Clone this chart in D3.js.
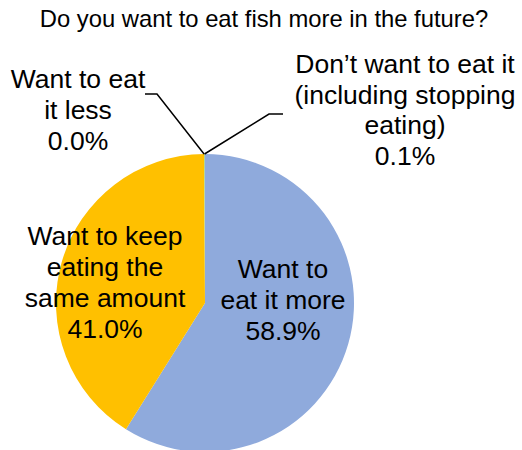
<!DOCTYPE html>
<html>
<head>
<meta charset="utf-8">
<script src="https://cdn.jsdelivr.net/npm/d3@7"></script>
<style>
  body { margin: 0; background: #fff; }
  text { font-family: "Liberation Sans", Arial, sans-serif; fill: #000; }
</style>
</head>
<body>
<div id="GraphHolder"></div>
<script>
// chart data
var categories = ["Want to eat it more", "Want to keep eating the same amount",
                  "Want to eat it less", "Don't want to eat it (including stopping eating)"];
var values = [58.9, 41.0, 0.0, 0.1];
var colors = ["#8FAADC", "#FFC000", "#A5A5A5", "#A9D18E"];
var labelLines = [
    ["Want to", "eat it more"],
    ["Want to keep", "eating the", "same amount"],
    ["Want to eat", "it less"],
    ["Don\u2019t want to eat it", "(including stopping", "eating)"]
];

var width = 522, height = 450;
var cx = 205, cy = 303, radius = 149;

var svg = d3.select("#GraphHolder").append("svg")
    .attr("width", width)
    .attr("height", height);

// title
svg.append("text")
    .attr("x", 264)
    .attr("y", 27)
    .style("text-anchor", "middle")
    .style("font-size", "23.8px")
    .text("Do you want to eat fish more in the future?");

var pie = d3.pie().sort(null).value(function(d) { return d; });
var arcs = pie(values);
var arc = d3.arc().innerRadius(0).outerRadius(radius);

var g = svg.append("g")
    .attr("transform", "translate(" + cx + "," + cy + ")");

g.selectAll(".slice")
    .data(arcs)
    .enter().append("path")
    .attr("class", "slice")
    .attr("d", arc)
    .style("fill", function(d, i) { return colors[i]; });

// label placement (x centre, first baseline), leader elbows for outside labels
var labelPos = [
    {x: 283, y: 278, inside: true},
    {x: 105, y: 245, inside: true},
    {x: 78, y: 88, elbow: [[145, 94], [157, 94]]},
    {x: 405, y: 73, elbow: [[283, 114], [269, 114]]}
];
var lineH = 31;

// leader lines for the tiny slices
arcs.forEach(function(d, i) {
    var p = labelPos[i];
    if (p.inside) return;
    var a = (d.startAngle + d.endAngle) / 2;
    var edge = [cx + radius * Math.sin(a), cy - radius * Math.cos(a)];
    var pts = p.elbow.concat([edge]);
    svg.append("path")
        .attr("d", d3.line()(pts))
        .style("fill", "none")
        .style("stroke", "#000")
        .style("stroke-width", 1.5);
});

// labels
arcs.forEach(function(d, i) {
    var p = labelPos[i];
    var lines = labelLines[i].concat([values[i].toFixed(1) + "%"]);
    var t = svg.append("text")
        .style("text-anchor", "middle")
        .style("font-size", "26.5px");
    lines.forEach(function(s, k) {
        t.append("tspan")
            .attr("x", p.x)
            .attr("y", p.y + k * (i === 3 ? 30.5 : lineH))
            .text(s);
    });
});
</script>
</body>
</html>
